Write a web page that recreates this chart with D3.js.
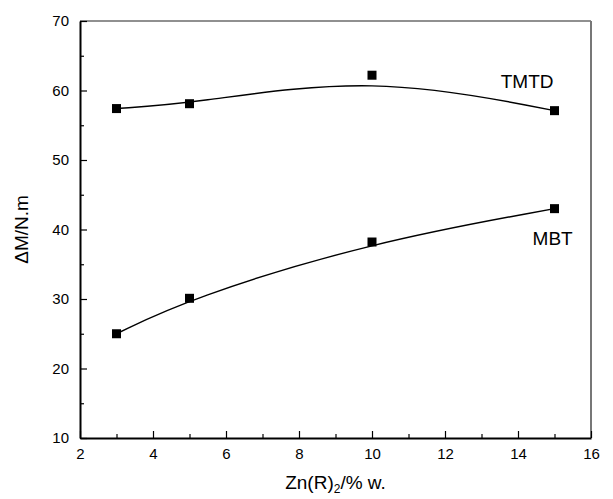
<!DOCTYPE html>
<html>
<head>
<meta charset="utf-8">
<script src="https://cdn.jsdelivr.net/npm/d3@7"></script>
<style>
  html, body { margin: 0; padding: 0; background: #fff; }
  svg { display: block; font-family: "Liberation Sans", Arial, sans-serif; }
</style>
</head>
<body>
<svg id="chart" width="613" height="499"></svg>
<script>
// ---- data ----
const xValues = [3, 5, 10, 15];
const tmtdValues = [57.4, 58.1, 62.2, 57.1];
const mbtValues = [25.0, 30.1, 38.2, 43.0];
const seriesNames = ["TMTD", "MBT"];
const xTicks = [2, 4, 6, 8, 10, 12, 14, 16];
const xMinorTicks = [3, 5, 7, 9, 11, 13, 15];
const yTicks = [10, 20, 30, 40, 50, 60, 70];
const yMinorTicks = [15, 25, 35, 45, 55, 65];
const xTitle = "Zn(R)";
const xTitleSub = "2";
const xTitleRest = "/% w.";
const yTitle = "\u0394M/N.m";

// ---- layout ----
const svg = d3.select("#chart");
const margin = { left: 80, right: 22, top: 21, bottom: 61 };
const W = 613, H = 499;
const x = d3.scaleLinear().domain([2, 16]).range([margin.left, W - margin.right]);
const y = d3.scaleLinear().domain([10, 70]).range([H - margin.bottom, margin.top]);

// frame (top/right lighter)
svg.append("line").attr("x1", x(2)).attr("x2", x(16)).attr("y1", y(70)).attr("y2", y(70))
  .attr("stroke", "#222").attr("stroke-width", 1.2);
svg.append("line").attr("x1", x(16)).attr("x2", x(16)).attr("y1", y(70)).attr("y2", y(10))
  .attr("stroke", "#777").attr("stroke-width", 2);

// x axis
const xAxis = svg.append("g").attr("transform", `translate(0,${y(10)})`)
  .call(d3.axisBottom(x).tickValues(xTicks).tickFormat(d3.format("d")).tickSizeInner(-7).tickSizeOuter(0).tickPadding(10));
xAxis.selectAll(".tick text").attr("font-size", 15).attr("fill", "#000");
const xMinor = svg.append("g").attr("transform", `translate(0,${y(10)})`)
  .call(d3.axisBottom(x).tickValues(xMinorTicks).tickFormat("").tickSizeInner(-4).tickSizeOuter(0));
xMinor.select(".domain").remove();

// y axis
const yAxis = svg.append("g").attr("transform", `translate(${x(2)},0)`)
  .call(d3.axisLeft(y).tickValues(yTicks).tickFormat(d3.format("d")).tickSizeInner(-7).tickSizeOuter(0).tickPadding(11));
yAxis.selectAll(".tick text").attr("font-size", 15).attr("fill", "#000");
const yMinor = svg.append("g").attr("transform", `translate(${x(2)},0)`)
  .call(d3.axisLeft(y).tickValues(yMinorTicks).tickFormat("").tickSizeInner(-4).tickSizeOuter(0));
yMinor.select(".domain").remove();

svg.selectAll(".domain").attr("stroke", "#000").attr("stroke-width", 2);
svg.selectAll(".tick line").attr("stroke", "#000").attr("stroke-width", 1.2);

// curves (B-spline) + markers
const line = d3.line().x(d => x(d[0])).y(d => y(d[1])).curve(d3.curveBasis);
const seriesData = [tmtdValues, mbtValues];
seriesData.forEach(vals => {
  const pts = xValues.map((xv, i) => [xv, vals[i]]);
  svg.append("path").datum(pts).attr("d", line)
    .attr("fill", "none").attr("stroke", "#000").attr("stroke-width", 1.4);
  svg.selectAll(null).data(pts).enter().append("rect")
    .attr("x", d => x(d[0]) - 4.5).attr("y", d => y(d[1]) - 4.5)
    .attr("width", 9).attr("height", 9).attr("fill", "#000");
});

// series labels
svg.append("text").attr("x", x(14.25)).attr("y", y(60.3)).attr("text-anchor", "middle")
  .attr("font-size", 19).text(seriesNames[0]);
svg.append("text").attr("x", x(14.95)).attr("y", y(37.8)).attr("text-anchor", "middle")
  .attr("font-size", 19).text(seriesNames[1]);

// axis titles
const xt = svg.append("text").attr("x", (x(2) + x(16)) / 2).attr("y", 489)
  .attr("text-anchor", "middle").attr("font-size", 19);
xt.append("tspan").text(xTitle);
xt.append("tspan").attr("font-size", 12).attr("dy", 4).text(xTitleSub);
xt.append("tspan").attr("dy", -4).text(xTitleRest);

svg.append("text").attr("transform", `translate(28,${(y(10) + y(70)) / 2}) rotate(-90)`)
  .attr("text-anchor", "middle").attr("font-size", 19).text(yTitle);
</script>
</body>
</html>
